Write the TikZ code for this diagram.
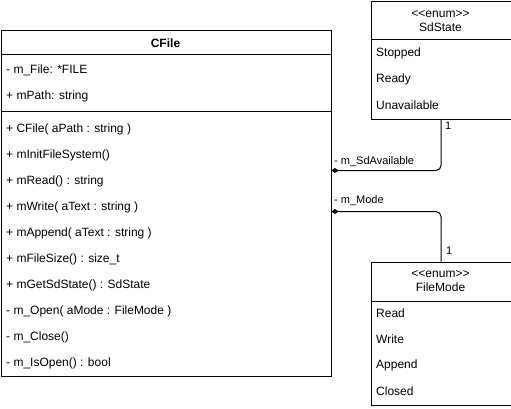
\documentclass[tikz,border=0pt]{standalone}
\usepackage{fontspec}
\setmainfont{Liberation Sans}[Ligatures=TeXOff]
\usetikzlibrary{positioning, arrows.meta}

\tikzset{
  umlbox/.style={draw, line width=1pt, anchor=north west, inner sep=0pt},
  member/.style={anchor=west, inner sep=0pt, font=\fontsize{12}{14}\selectfont},
  title/.style={inner sep=0pt, font=\fontsize{12}{14}\selectfont, align=center},
  edgelabel/.style={anchor=west, inner sep=0pt, font=\fontsize{11}{13}\selectfont},
  assoc/.style={line width=1pt, rounded corners=5pt, -{Diamond[length=7pt,width=5pt]}},
}

\begin{document}
\begin{tikzpicture}[x=1pt,y=1pt,yscale=-1,xscale=1]
\useasboundingbox (0,0) rectangle (511,408);

%Shape: Class [id:cfile]
\node (cfile) [umlbox, minimum width=330pt, minimum height=346pt] at (0.5,29.5) {};
\draw [line width=1pt] (cfile.west |- 0,54.5) -- (cfile.east |- 0,54.5);
\draw [line width=1pt] (cfile.west |- 0,111.5) -- (cfile.east |- 0,111.5);
\node (cfiletitle) [title, font=\fontsize{12}{14}\selectfont\bfseries] at (165.5,43) {CFile};
% Attributes
\node (mfile) [member] at (6,70) {- m\_File: *FILE};
\node (mpath) [member] at (6,96) {+ mPath: string};
% Operations
\node (opctor) [member] at (6,129) {+ CFile( aPath : string )};
\node (opinit) [member] at (6,155) {+ mInitFileSystem()};
\node (opread) [member] at (6,181) {+ mRead() : string};
\node (opwrite) [member] at (6,207) {+ mWrite( aText : string )};
\node (opappend) [member] at (6,233) {+ mAppend( aText : string )};
\node (opsize) [member] at (6,259) {+ mFileSize() : size\_t};
\node (opstate) [member] at (6,285) {+ mGetSdState() : SdState};
\node (opopen) [member] at (6,311) {- m\_Open( aMode : FileMode )};
\node (opclose) [member] at (6,337) {- m\_Close()};
\node (opisopen) [member] at (6,363) {- m\_IsOpen() : bool};

%Shape: Enum [id:sdstate]
\node (sdstate) [umlbox, minimum width=140pt, minimum height=118pt] at (370.5,0.5) {};
\draw [line width=1pt] (sdstate.west |- 0,39.5) -- (sdstate.east |- 0,39.5);
\node (sdtitle) [title] at (440.5,21) {<<enum>>\\SdState};
\node (sdstopped) [member] at (376,53) {Stopped};
\node (sdready) [member] at (376,79) {Ready};
\node (sdunavail) [member] at (376,105) {Unavailable};

%Shape: Enum [id:filemode]
\node (filemode) [umlbox, minimum width=140pt, minimum height=143pt] at (370.5,261.5) {};
\draw [line width=1pt] (filemode.west |- 0,301.5) -- (filemode.east |- 0,301.5);
\node (fmtitle) [title] at (440.5,281) {<<enum>>\\FileMode};
\node (fmread) [member] at (376,313) {Read};
\node (fmwrite) [member] at (376,339) {Write};
\node (fmappend) [member] at (376,365) {Append};
\node (fmclosed) [member] at (376,391) {Closed};

%Straight Lines [id:sdavailable]
\draw [assoc] (sdstate.south) |- (cfile.east |- 0,170.5);
% Text Node
\node (sdrole) [edgelabel] at (334,162) {- m\_SdAvailable};
\node (sdmult) [edgelabel] at (445,126) {1};

%Straight Lines [id:mode]
\draw [assoc] (filemode.north) |- (cfile.east |- 0,211.5);
% Text Node
\node (moderole) [edgelabel] at (334,201) {- m\_Mode};
\node (modemult) [edgelabel] at (446,251) {1};

\end{tikzpicture}
\end{document}
